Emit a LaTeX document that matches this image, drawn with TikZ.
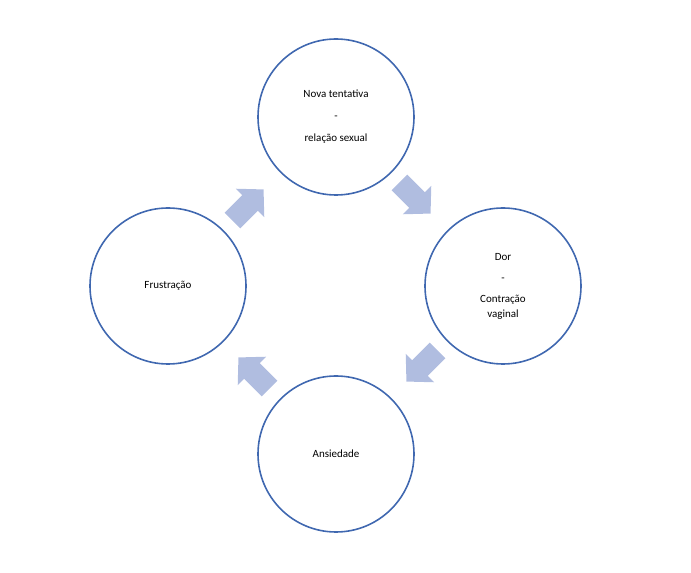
\documentclass[tikz,border=0pt]{standalone}
\usepackage{fontspec}
\setmainfont{Carlito}
\begin{document}
\begin{tikzpicture}[x=1pt,y=1pt,
  circ/.style={circle,draw=blue!50!black!70!cyan!60,draw=cblue,line width=1.6pt,minimum size=156pt,inner sep=0pt,align=center,font=\fontsize{11}{15}\selectfont},
  barrow/.style={fill=afill,draw=none}]
\definecolor{cblue}{HTML}{4068B0}
\definecolor{afill}{HTML}{B0BDE0}
\useasboundingbox (0,0) rectangle (691,573);
\node[circ] (top) at (336,573-117) {Nova tentativa\\[7pt]-\\[7pt]relação sexual};
\node[circ] (right) at (503,573-286) {Dor\\[6pt]-\\[6pt]Contração\\vaginal};
\node[circ] (bot) at (336,573-454) {Ansiedade};
\node[circ] (left) at (168,573-286) {Frustração};
\foreach \cx/\cy/\ang in {415/198/-45, 422/366/-135, 254/373/135, 248/205/45}{
  \begin{scope}[shift={(\cx,573-\cy)},rotate=\ang]
    \fill[barrow] (-22,-11) -- (3,-11) -- (3,-20) -- (22,0) -- (3,20) -- (3,11) -- (-22,11) -- cycle;
  \end{scope}
}
\end{tikzpicture}
\end{document}
